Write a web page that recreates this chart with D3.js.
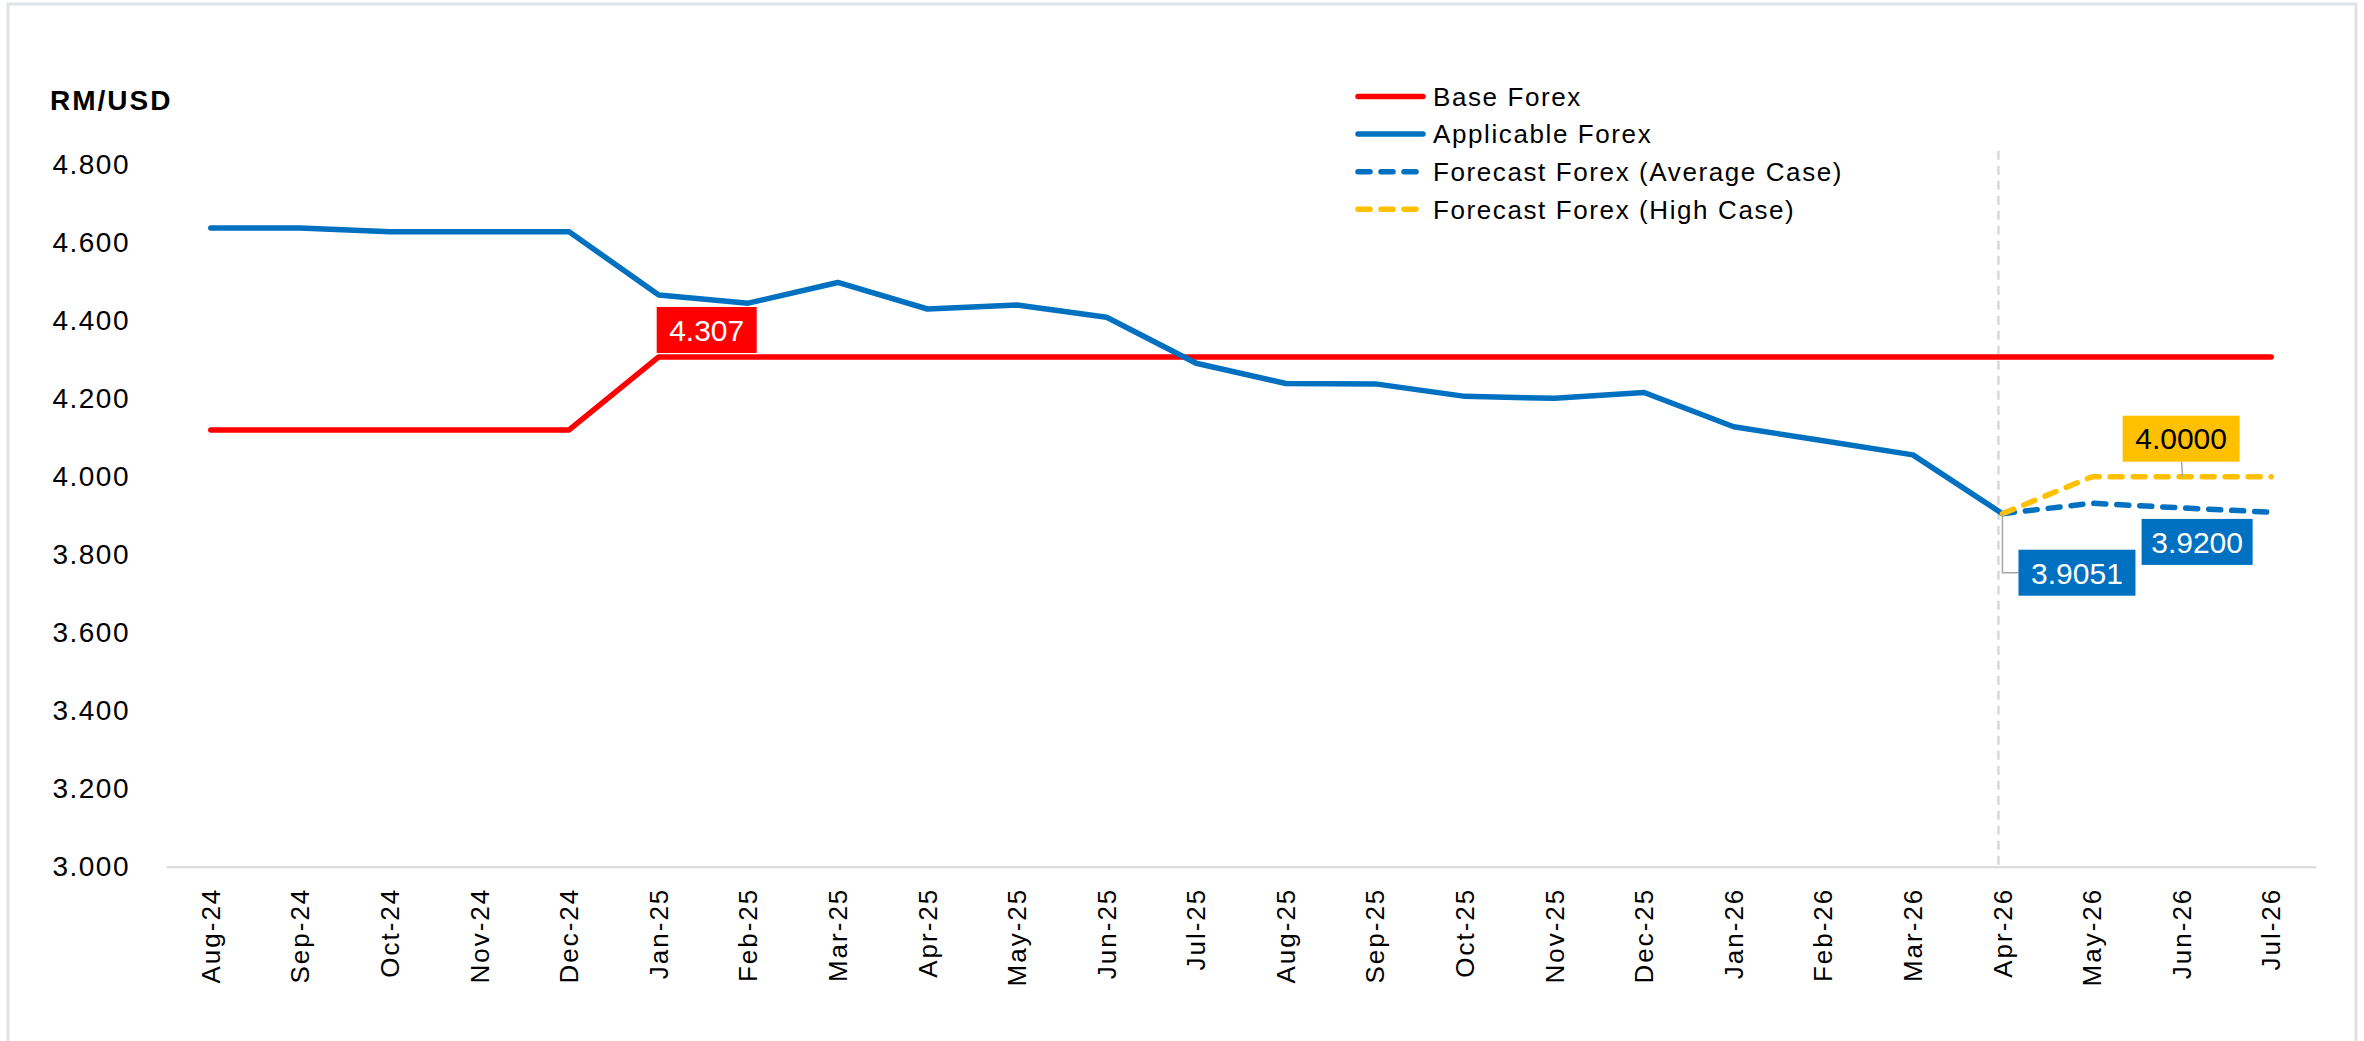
<!DOCTYPE html>
<html>
<head>
<meta charset="utf-8">
<script src="https://cdn.jsdelivr.net/npm/d3@7"></script>
<style>
  body { margin: 0; background: #fff; }
  text { font-family: "Liberation Sans", Arial, sans-serif; }
</style>
</head>
<body>
<svg width="2364" height="1041"></svg>
<script>
const months = ["Aug-24", "Sep-24", "Oct-24", "Nov-24", "Dec-24", "Jan-25", "Feb-25", "Mar-25",
  "Apr-25", "May-25", "Jun-25", "Jul-25", "Aug-25", "Sep-25", "Oct-25", "Nov-25", "Dec-25",
  "Jan-26", "Feb-26", "Mar-26", "Apr-26", "May-26", "Jun-26", "Jul-26"];

const baseForex = [4.12, 4.12, 4.12, 4.12, 4.12, 4.307, 4.307, 4.307, 4.307, 4.307, 4.307, 4.307,
  4.307, 4.307, 4.307, 4.307, 4.307, 4.307, 4.307, 4.307, 4.307, 4.307, 4.307, 4.307];

const applicableForex = [4.638, 4.638, 4.628, 4.628, 4.628, 4.466, 4.445, 4.498, 4.430, 4.440,
  4.409, 4.291, 4.239, 4.238, 4.206, 4.201, 4.216, 4.128, 4.092, 4.056, 3.9051, null, null, null];

const forecastAvg = [null, null, null, null, null, null, null, null, null, null, null, null,
  null, null, null, null, null, null, null, null, 3.9051, 3.932, 3.920, 3.909];

const forecastHigh = [null, null, null, null, null, null, null, null, null, null, null, null,
  null, null, null, null, null, null, null, null, 3.9051, 4.0, 4.0, 4.0];

const yTicks = [3.0, 3.2, 3.4, 3.6, 3.8, 4.0, 4.2, 4.4, 4.6, 4.8];

const seriesNames = ["Base Forex", "Applicable Forex", "Forecast Forex (Average Case)", "Forecast Forex (High Case)"];
const seriesColors = ["#ff0000", "#0070c0", "#0070c0", "#ffc000"];
const seriesDashed = [false, false, true, true];

// data labels: month, value, text
const labelMonths = ["Jan-25", "Jun-26", "Jun-26", "Apr-26"];
const labelValues = [4.307, 4.0, 3.92, 3.9051];
const labelTexts = ["4.307", "4.0000", "3.9200", "3.9051"];

const svg = d3.select("svg"),
      width = +svg.attr("width"),
      height = +svg.attr("height");

// outer frame
svg.append("rect")
  .attr("x", 8).attr("y", 4)
  .attr("width", width - 16).attr("height", height + 40)
  .attr("fill", "none")
  .attr("stroke", "#dfe2e6")
  .attr("stroke-width", 3);

const x = d3.scaleBand().domain(months).range([166, 2316]);
const px = m => x(m) + x.bandwidth() / 2;
const y = d3.scaleLinear().domain([3, 4.8]).range([866.7, 164.7]);

// y axis
const yAxis = svg.append("g")
  .attr("transform", "translate(130,0)")
  .call(d3.axisLeft(y).tickValues(yTicks).tickFormat(d3.format(".3f")).tickSize(0).tickPadding(0));
yAxis.select(".domain").remove();
yAxis.selectAll("text")
  .attr("fill", "#000")
  .style("font-size", "28px")
  .style("letter-spacing", "1.5px");

svg.append("text")
  .attr("x", 50)
  .attr("y", 100)
  .attr("dy", "0.36em")
  .style("font-size", "28px")
  .style("font-weight", "bold")
  .style("letter-spacing", "2px")
  .text("RM/USD");

// x axis
const xAxis = svg.append("g")
  .attr("transform", `translate(0,${y(3)})`)
  .call(d3.axisBottom(x).tickSize(0));
xAxis.select(".domain").attr("stroke", "#d9d9d9").attr("stroke-width", 2);
xAxis.selectAll("text")
  .attr("fill", "#000")
  .attr("transform", "rotate(-90)")
  .attr("x", -21)
  .attr("y", 0)
  .attr("dy", "0.35em")
  .style("text-anchor", "end")
  .style("font-size", "26px")
  .style("letter-spacing", "2px");

// divider at last actual month
const divX = px("Apr-26") - 4;
svg.append("line")
  .attr("x1", divX).attr("x2", divX)
  .attr("y1", y.range()[1] - 14).attr("y2", y(3))
  .attr("stroke", "#d9d9d9")
  .attr("stroke-width", 2.5)
  .attr("stroke-dasharray", "9,6");

const line = d3.line()
  .defined(d => d.v != null)
  .x(d => px(d.m))
  .y(d => y(d.v));

const allSeries = [baseForex, applicableForex, forecastAvg, forecastHigh];

svg.selectAll(".series")
  .data(allSeries)
  .enter()
  .append("path")
  .attr("class", "series")
  .attr("d", s => line(s.map((v, i) => ({ m: months[i], v }))))
  .attr("fill", "none")
  .attr("stroke", (d, i) => seriesColors[i])
  .attr("stroke-width", 5.5)
  .attr("stroke-linejoin", "round")
  .attr("stroke-linecap", "round")
  .attr("stroke-dasharray", (d, i) => seriesDashed[i] ? "12,11" : null);

// leader lines
const lead = svg.append("g").attr("stroke", "#a6a6a6").attr("stroke-width", 1.5).attr("fill", "none");
lead.append("path")
  .attr("d", `M${px("Apr-26")},${y(3.9051)}V${y(3.9051) + 59}H${px("Apr-26") + 16}`);
lead.append("line")
  .attr("x1", px("Jun-26")).attr("x2", px("Jun-26") + 1)
  .attr("y1", y(4.0) - 15).attr("y2", y(4.0));

// label boxes: offsets from point
const boxDx = [-2, -59, -40, 16];
const boxDy = [-50, -61, 11, 36];
const boxW = [100, 117, 111, 117];
const boxFill = ["#ff0000", "#ffc000", "#0070c0", "#0070c0"];
const boxText = ["#fff", "#000", "#fff", "#fff"];

const labels = svg.selectAll(".dlabel")
  .data(labelTexts)
  .enter()
  .append("g")
  .attr("class", "dlabel")
  .attr("transform", (d, i) => `translate(${px(labelMonths[i]) + boxDx[i]},${y(labelValues[i]) + boxDy[i]})`);

labels.append("rect")
  .attr("width", (d, i) => boxW[i])
  .attr("height", 46)
  .attr("fill", (d, i) => boxFill[i]);

labels.append("text")
  .attr("x", (d, i) => boxW[i] / 2)
  .attr("y", 23)
  .attr("dy", "0.36em")
  .attr("text-anchor", "middle")
  .attr("fill", (d, i) => boxText[i])
  .style("font-size", "30px")
  .text(d => d);

// legend
const legend = svg.append("g")
  .attr("class", "legend")
  .attr("transform", "translate(1355,96.5)");

const rows = legend.selectAll("g")
  .data(seriesNames)
  .enter()
  .append("g")
  .attr("transform", (d, i) => `translate(0,${i * 37.6})`);

rows.append("line")
  .attr("x1", 3).attr("x2", 68)
  .attr("stroke", (d, i) => seriesColors[i])
  .attr("stroke-width", 5.5)
  .attr("stroke-linecap", "round")
  .attr("stroke-dasharray", (d, i) => seriesDashed[i] ? "12,11" : null);

rows.append("text")
  .attr("x", 78)
  .attr("dy", "0.36em")
  .style("font-size", "26px")
  .style("letter-spacing", "1.6px")
  .text(d => d);
</script>
</body>
</html>
